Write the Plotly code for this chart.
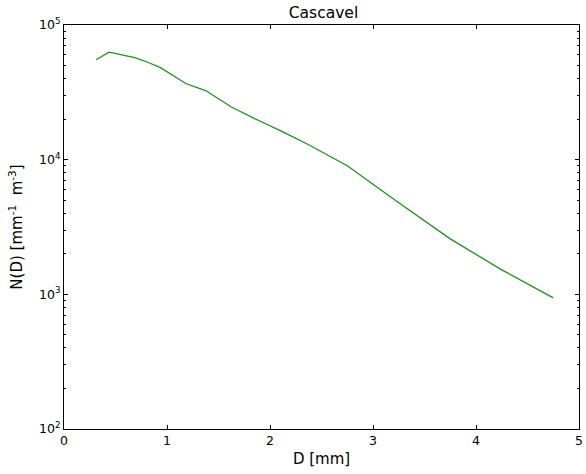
import plotly.graph_objects as go

diameter_mm = [0.312, 0.437, 0.562, 0.687, 0.812, 0.937, 1.062, 1.187, 1.375,
               1.625, 1.875, 2.125, 2.375, 2.75, 3.25, 3.75, 4.25, 4.75]
nd_values = [55200, 62800, 60100, 57300, 52900, 48200, 42000, 36600, 32600,
             24600, 19800, 16100, 12900, 9010, 4790, 2580, 1520, 942]

x_ticks = [0, 1, 2, 3, 4, 5]
y_ticks = [100, 1000, 10000, 100000]
y_tick_labels = ["10<sup>2</sup>", "10<sup>3</sup>", "10<sup>4</sup>", "10<sup>5</sup>"]

minor_y = [m * 10 ** e for e in range(2, 5) for m in range(2, 10)]

font_family = "DejaVu Sans"

fig = go.Figure()
fig.add_trace(go.Scatter(x=diameter_mm, y=nd_values, mode="lines",
                         line=dict(color="#1f8f1f", width=1.3), showlegend=False))

fig.update_layout(
    width=586, height=474,
    margin=dict(l=64, r=3, t=25, b=45),
    paper_bgcolor="white", plot_bgcolor="white",
    font=dict(family=font_family, size=12.5, color="black"),
    title=dict(text="Cascavel", x=(64 + 583) / 2 / 586, xanchor="center",
               y=1 - 13 / 474, yanchor="middle", font=dict(size=15.5)),
)
fig.update_xaxes(
    range=[0, 5], tickvals=x_ticks, ticks="inside", ticklen=4, tickwidth=1,
    tickcolor="black", showline=True, linecolor="black", linewidth=1,
    mirror="allticks", showgrid=False, zeroline=False, ticklabeloverflow="allow",
    title=dict(text="D [mm]", standoff=6), tickfont=dict(size=12.5),
)
fig.update_yaxes(
    type="log", range=[2, 5], tickvals=y_ticks, ticktext=y_tick_labels,
    ticks="inside", ticklen=4, tickwidth=1, tickcolor="black",
    showline=True, linecolor="black", linewidth=1, mirror="allticks",
    showgrid=False, zeroline=False, ticklabeloverflow="allow",
    minor=dict(tickvals=minor_y, ticks="inside", ticklen=2, tickcolor="black", showgrid=False),
    title=dict(text="N(D) [mm<sup>-1</sup>  m<sup>-3</sup>]", standoff=12),
    tickfont=dict(size=12.5),
)

fig.write_html("out.html")
